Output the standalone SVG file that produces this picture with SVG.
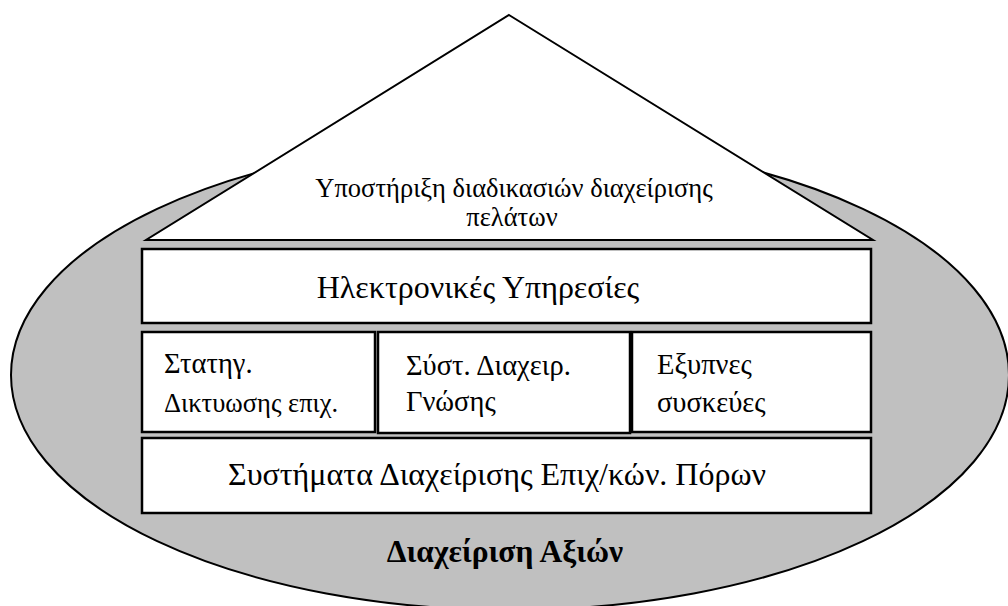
<svg xmlns="http://www.w3.org/2000/svg" width="1008" height="606" viewBox="0 0 1008 606">
<style>
.t{font-family:"Liberation Serif","Times New Roman",serif;fill:#000}
.box{fill:#fff;stroke:#000;stroke-width:2.5}
.cell{font-size:28.5px}
</style>
<rect width="1008" height="606" fill="#fff"/>
<g id="ellipse">
<ellipse cx="510" cy="375" rx="499" ry="235" fill="#c0c0c0" stroke="#000" stroke-width="2"/>
<text class="t" x="505" y="562" font-size="31.5" font-weight="bold" text-anchor="middle">Διαχείριση Αξιών</text>
</g>
<g id="roof">
<polygon points="509,15 873,240 146,240" fill="#fff" stroke="#000" stroke-width="2"/>
<text class="t" x="514" y="197" font-size="26.5" text-anchor="middle">Υποστήριξη διαδικασιών διαχείρισης</text>
<text class="t" x="512" y="226" font-size="26.5" text-anchor="middle">πελάτων</text>
</g>
<g id="eservices">
<rect class="box" x="142" y="249" width="729" height="74"/>
<text class="t" x="478" y="298" font-size="32" text-anchor="middle">Ηλεκτρονικές Υπηρεσίες</text>
</g>
<g id="strategic">
<rect class="box" x="142" y="332" width="233" height="100"/>
<text class="t cell" x="164" y="373">Στατηγ.</text>
<text class="t" x="164" y="412" font-size="26.5">Δικτυωσης επιχ.</text>
</g>
<g id="knowledge">
<rect class="box" x="378" y="332" width="252" height="101"/>
<text class="t cell" x="406" y="375">Σύστ. Διαχειρ.</text>
<text class="t cell" x="406" y="411">Γνώσης</text>
</g>
<g id="smart">
<rect class="box" x="632" y="332" width="239" height="100"/>
<text class="t cell" x="657" y="374">Εξυπνες</text>
<text class="t cell" x="657" y="412">συσκεύες</text>
</g>
<g id="erp">
<rect class="box" x="142" y="438" width="729" height="75"/>
<text class="t" x="497" y="485" font-size="32" text-anchor="middle">Συστήματα Διαχείρισης Επιχ/κών. Πόρων</text>
</g>
<g id="connectors"/>
</svg>
